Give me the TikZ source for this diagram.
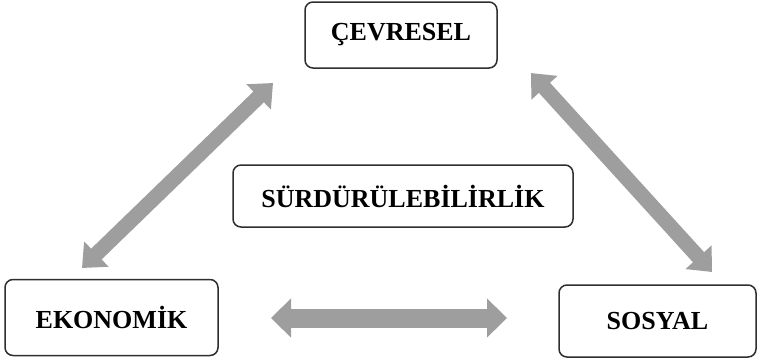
\documentclass[tikz,border=0pt]{standalone}
\usepackage{fontspec}
\setmainfont{Liberation Serif}
\usetikzlibrary{arrows.meta}
\definecolor{arrowgray}{HTML}{9E9E9E}
\definecolor{boxline}{HTML}{2E2E2E}
\tikzset{
  box/.style={draw=boxline, line width=1.5pt, rounded corners=8pt, fill=white,
    font=\fontsize{26}{29}\selectfont\bfseries, text=black, inner sep=0pt},
  bigarrow/.style={draw=arrowgray, line width=15pt,
    {Triangle[length=20pt,width=34pt]}-{Triangle[length=20pt,width=34pt]}},
  flatarrow/.style={draw=arrowgray, line width=19pt,
    {Triangle[length=20pt,width=38pt]}-{Triangle[length=20pt,width=38pt]}}
}
\begin{document}
\begin{tikzpicture}[x=1pt,y=-1pt]
\useasboundingbox (0,0) rectangle (758,360);
\node[box, minimum width=192pt, minimum height=66pt] (cev) at (401,35) {ÇEVRESEL};
\node[box, minimum width=340pt, minimum height=62pt] (sur) at (403,196) {SÜRDÜRÜLEBİLİRLİK};
\node[box, minimum width=213pt, minimum height=76pt] (eko) at (111.5,317.5) {EKONOMİK};
\node[box, minimum width=197pt, minimum height=72pt] (sos) at (657.5,321) {SOSYAL};
\coordinate (l1) at (82,268);
\coordinate (l2) at (273,83);
\coordinate (r1) at (531,73);
\coordinate (r2) at (712,272);
\coordinate (b1) at (271,318);
\coordinate (b2) at (507,318);
\draw[bigarrow] (l1) -- (l2);
\draw[bigarrow] (r1) -- (r2);
\draw[flatarrow] (b1) -- (b2);
\end{tikzpicture}
\end{document}
